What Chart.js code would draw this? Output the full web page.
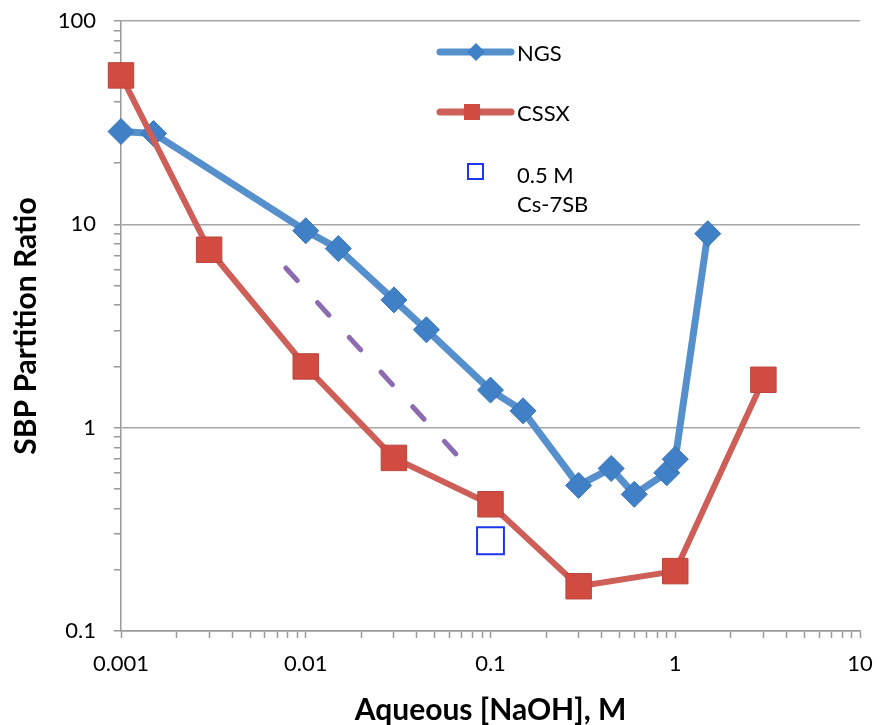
<!DOCTYPE html>
<html>
<head>
<meta charset="utf-8">
<script src="https://cdn.jsdelivr.net/npm/chart.js@4.4.0/dist/chart.umd.min.js"></script>
<style>
  html, body { margin: 0; padding: 0; background: #fff; }
  #wrap { width: 881px; height: 725px; }
</style>
</head>
<body>
<div id="wrap"><canvas id="partitionChart" width="881" height="725"></canvas></div>
<script>
// values (log-log)
const ngsX  = [0.001, 0.0015, 0.01, 0.015, 0.03, 0.045, 0.1, 0.15, 0.3, 0.45, 0.6, 0.9, 1.0, 1.5];
const ngsY  = [28.6, 28.0, 9.3, 7.6, 4.25, 3.03, 1.53, 1.21, 0.52, 0.63, 0.47, 0.60, 0.70, 9.0];
const cssxX = [0.001, 0.003, 0.01, 0.03, 0.1, 0.3, 1, 3];
const cssxY = [54, 7.5, 2.0, 0.71, 0.42, 0.166, 0.197, 1.72];
const cs7sbX = [0.1];
const cs7sbY = [0.278];
const trendX = [0.0078, 0.067];
const trendY = [6.1, 0.72];

const xRange = [0.001, 10];
const yRange = [0.1, 100];
const seriesLabels = ['NGS', 'CSSX', ['0.5 M', 'Cs-7SB']];

const FONT = 'Lato, "Open Sans", sans-serif';

function pts(xs, ys) {
  return xs.map((x, i) => ({ x: x, y: ys[i] }));
}

function isMajor(v) {
  const l = Math.log10(v);
  return Math.abs(l - Math.round(l)) < 1e-6;
}

// 1..9 x 10^n ticks for every decade
function decadeTicks(scale) {
  const ticks = [];
  const lo = Math.round(Math.log10(scale.min));
  const hi = Math.round(Math.log10(scale.max));
  for (let e = lo; e <= hi; e++) {
    for (let s = 1; s <= 9; s++) {
      const v = Number((s * Math.pow(10, e)).toPrecision(3));
      if (v > scale.max * 1.0001) break;
      ticks.push({ value: v, major: s === 1 });
    }
  }
  scale.ticks = ticks;
}

function tickLabel(value) {
  return isMajor(value) ? String(Number(value.toPrecision(1))) : '';
}

// legend drawn inside the plot, Excel style
const insideLegend = {
  id: 'insideLegend',
  afterDatasetsDraw(chart) {
    const ctx = chart.ctx;
    const ds = chart.data.datasets;
    const lx0 = 440, lx1 = 511, tx = 517;
    const rows = [52, 112, 172];
    ctx.save();
    ctx.lineCap = 'round';

    // NGS
    ctx.strokeStyle = ds[0].borderColor;
    ctx.lineWidth = 7;
    ctx.beginPath(); ctx.moveTo(lx0, rows[0]); ctx.lineTo(lx1, rows[0]); ctx.stroke();
    ctx.fillStyle = ds[0].pointBackgroundColor;
    ctx.beginPath();
    ctx.moveTo(476 - 9, rows[0]); ctx.lineTo(476, rows[0] - 9);
    ctx.lineTo(476 + 9, rows[0]); ctx.lineTo(476, rows[0] + 9);
    ctx.closePath(); ctx.fill();

    // CSSX
    ctx.strokeStyle = ds[1].borderColor;
    ctx.beginPath(); ctx.moveTo(lx0, rows[1]); ctx.lineTo(lx1, rows[1]); ctx.stroke();
    ctx.fillStyle = ds[1].pointBackgroundColor;
    ctx.fillRect(464, rows[1] - 8, 16, 16);

    // Cs-7SB
    ctx.strokeStyle = ds[2].pointBorderColor;
    ctx.lineWidth = 2;
    ctx.strokeRect(468, rows[2] - 8, 15, 15);

    ctx.fillStyle = '#000';
    ctx.font = '22px ' + FONT;
    ctx.textBaseline = 'middle';
    ctx.fillText(seriesLabels[0], tx, rows[0] + 2);
    ctx.fillText(seriesLabels[1], tx, rows[1] + 2);
    ctx.fillText(seriesLabels[2][0], tx, rows[2] + 4);
    ctx.fillText(seriesLabels[2][1], tx, rows[2] + 33);
    ctx.restore();
  }
};

new Chart(document.getElementById('partitionChart').getContext('2d'), {
  type: 'scatter',
  data: {
    datasets: [
      {
        label: 'NGS',
        data: pts(ngsX, ngsY),
        showLine: true,
        borderColor: '#5690cc',
        borderWidth: 7,
        pointStyle: 'rectRot',
        pointRadius: 13,
        pointHoverRadius: 13,
        pointBackgroundColor: '#3f80c6',
        pointBorderColor: '#3a74b4',
        pointBorderWidth: 1,
        order: 2,
        clip: false
      },
      {
        label: 'CSSX',
        data: pts(cssxX, cssxY),
        showLine: true,
        borderColor: '#cd5f58',
        borderWidth: 6,
        pointStyle: 'rect',
        pointRadius: 18,
        pointHoverRadius: 18,
        pointBackgroundColor: '#d14b41',
        pointBorderColor: '#b9463e',
        pointBorderWidth: 1,
        order: 1,
        clip: false
      },
      {
        label: '0.5 M Cs-7SB',
        data: pts(cs7sbX, cs7sbY),
        showLine: false,
        pointStyle: 'rect',
        pointRadius: 19,
        pointHoverRadius: 19,
        pointBackgroundColor: '#ffffff',
        pointBorderColor: '#1c36f0',
        pointBorderWidth: 2,
        order: 0,
        clip: false
      },
      {
        label: 'trend',
        data: pts(trendX, trendY),
        showLine: true,
        borderColor: '#8c6bb1',
        borderWidth: 5,
        borderDash: [17, 30],
        borderCapStyle: 'round',
        pointRadius: 0,
        pointHoverRadius: 0,
        order: 3,
        clip: false
      }
    ]
  },
  options: {
    responsive: false,
    animation: false,
    layout: { padding: { top: 21, right: 0, left: 0, bottom: 0 } },
    plugins: {
      legend: { display: false },
      tooltip: { enabled: false }
    },
    scales: {
      x: {
        type: 'logarithmic',
        min: xRange[0],
        max: xRange[1],
        afterBuildTicks: decadeTicks,
        afterFit(scale) {
          scale.height = 94;
          scale.paddingLeft = 0;
          scale.paddingRight = 0;
          if (scale._margins) {
            scale._margins.left = 0;
            scale._margins.right = 16;
          }
        },
        border: { color: '#9a9a9a', width: 1.5 },
        grid: {
          drawOnChartArea: false,
          tickColor: '#9a9a9a',
          tickLength: 7,
          tickWidth: 1.5
        },
        ticks: {
          autoSkip: false,
          maxRotation: 0,
          padding: 13,
          color: '#000',
          font: { family: FONT, size: 22 },
          callback: tickLabel
        },
        title: {
          display: true,
          text: 'Aqueous [NaOH], M',
          color: '#000',
          font: { family: FONT, size: 30, weight: 'bold', lineHeight: 1 },
          padding: { top: 0, bottom: 0 }
        }
      },
      y: {
        type: 'logarithmic',
        min: yRange[0],
        max: yRange[1],
        afterBuildTicks: decadeTicks,
        afterFit(scale) {
          scale.width = 121;
          scale.paddingTop = 0;
          scale.paddingBottom = 0;
        },
        border: { color: '#9a9a9a', width: 1.5 },
        grid: {
          color: (c) => (c.tick && isMajor(c.tick.value)) ? '#a6a6a6' : 'rgba(0,0,0,0)',
          lineWidth: 1.5,
          tickColor: '#9a9a9a',
          tickLength: 7,
          tickWidth: 1.5
        },
        ticks: {
          autoSkip: false,
          padding: 18,
          color: '#000',
          font: { family: FONT, size: 22 },
          callback: tickLabel
        },
        title: {
          display: true,
          text: 'SBP Partition Ratio',
          color: '#000',
          font: { family: FONT, size: 30, weight: 'bold', lineHeight: 1 },
          padding: { top: 11, bottom: 0 }
        }
      }
    }
  },
  plugins: [insideLegend]
});
</script>
</body>
</html>
